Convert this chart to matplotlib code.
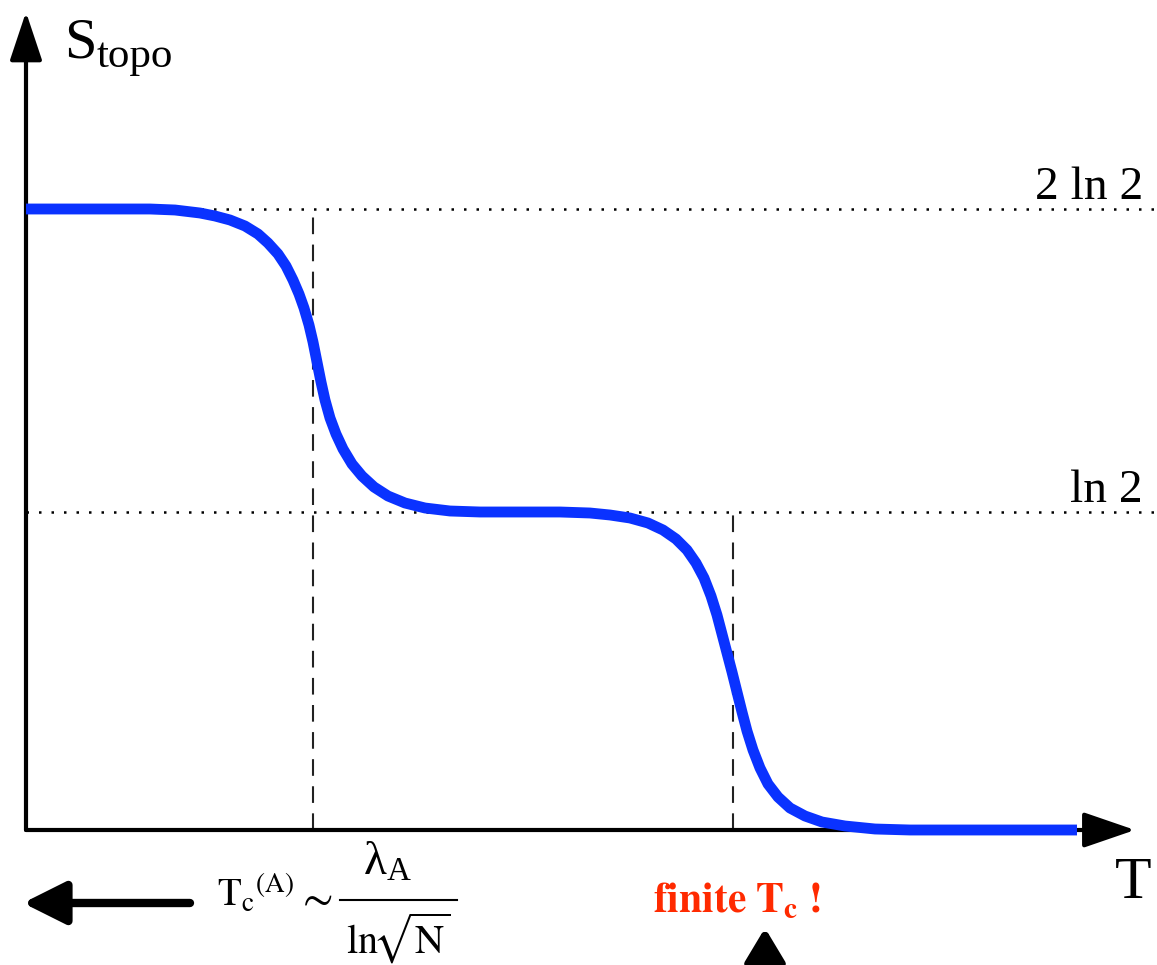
import matplotlib
matplotlib.use("Agg")
import matplotlib.pyplot as plt

plt.rcParams['mathtext.fontset'] = 'stix'
plt.rcParams['font.family'] = ['Liberation Serif', 'DejaVu Serif']

# schematic S_topo(T) curve (arbitrary units)
T_curve = [0, 124, 149, 174, 189, 204, 219, 232, 242, 252, 260, 267, 273, 278,
           283, 287, 291, 295, 299, 304, 310, 317, 326, 336, 348, 362, 379, 399,
           424, 454, 534, 564, 584, 604, 622, 637, 650, 661, 670, 678, 685, 691,
           696, 701, 706, 711, 716, 721, 727, 734, 742, 752, 764, 779, 796, 819,
           849, 884, 1051]
S_curve = [621, 621, 620, 617, 614, 610, 604, 596, 587, 576, 564, 550, 536, 522,
           505, 488, 468, 448, 430, 412, 396, 381, 366, 354, 343, 334, 327, 322,
           319, 318, 318, 317, 315, 312, 307, 300, 291, 280, 267, 252, 234, 215,
           196, 177, 158, 138, 118, 99, 80, 62, 46, 33, 22, 14, 8, 4,
           1, 0, 0]

levels = [621, 318]
level_labels = ['2 ln 2', 'ln 2']
T_cross = [287, 707]   # dashed markers (crossover temperatures)

fig = plt.figure(figsize=(11.57, 9.65), dpi=100)
ax = fig.add_axes([0, 0, 1, 1])
ax.set_xlim(-26, 1131)
ax.set_ylim(-135, 830)
ax.axis('off')

# dotted reference levels
for lev, lab in zip(levels, level_labels):
    ax.plot([0, 1131], [lev, lev], color='k', lw=1.8, ls=(0, (1, 4)))
    ax.text(1117, lev + 10, lab, ha='right', va='baseline', fontsize=34)

# dashed verticals
for tc, lev in zip(T_cross, levels):
    ax.plot([tc, tc], [0, lev], color='#222222', lw=1.5, ls=(0, (8, 5)))

# axes with arrows
ax.annotate('', xy=(0, 818), xytext=(0, 0),
            arrowprops=dict(arrowstyle='-|>,head_length=1.5,head_width=0.5',
                            lw=3, color='k', mutation_scale=20,
                            shrinkA=0, shrinkB=0))
ax.annotate('', xy=(1109, 0), xytext=(0, 0),
            arrowprops=dict(arrowstyle='-|>,head_length=1.6,head_width=0.55',
                            lw=3, color='k', mutation_scale=20,
                            shrinkA=0, shrinkB=0))

ax.plot(T_curve, S_curve, color='#0a32ff', lw=7.8, solid_capstyle='butt',
        solid_joinstyle='round', zorder=5)

# axis labels
ax.text(38, 773, 'S', fontsize=42, va='baseline', ha='left')
ax.text(71, 763, 'topo', fontsize=31, va='baseline', ha='left')
ax.text(1089, -68, 'T', fontsize=43, va='baseline', ha='left')

# bottom annotations
ax.annotate('', xy=(-3, -73), xytext=(164, -73),
            arrowprops=dict(arrowstyle='-|>,head_length=1.3,head_width=0.65',
                            lw=6, color='k', mutation_scale=20,
                            shrinkA=0, shrinkB=0))
ax.text(191, -76, r'$\mathrm{T_c}^{\mathrm{(A)}}$', fontsize=28,
        va='baseline', ha='left')
ax.text(288, -70, r'$\sim$', fontsize=32, va='center', ha='center')
ax.plot([314, 431], [-70, -70], color='k', lw=1.5)
ax.text(361, -45, r'$\mathregular{λ_A}$', fontsize=34, va='baseline', ha='center')
ax.text(372, -124, r'$\mathrm{ln}\!\sqrt{\mathrm{N}}$', fontsize=29,
        va='baseline', ha='center')

ax.text(627, -82, r'$\mathbf{finite\ T_c\ !}$', fontsize=30, color='#ff2a00',
        va='baseline', ha='left')
ax.annotate('', xy=(739, -98), xytext=(739, -150),
            arrowprops=dict(arrowstyle='-|>,head_length=1.0,head_width=0.6',
                            lw=6, color='k', mutation_scale=20,
                            shrinkA=0, shrinkB=0))

fig.savefig('out.png', dpi=100)
